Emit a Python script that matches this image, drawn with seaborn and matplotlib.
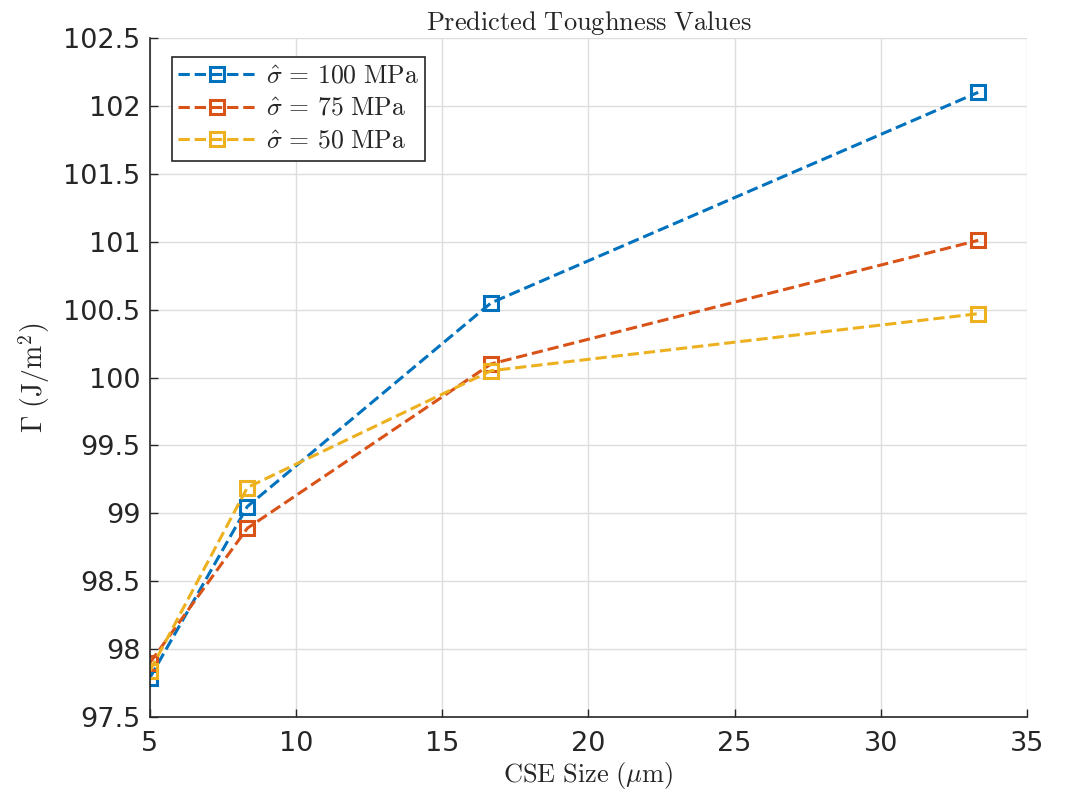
import matplotlib
matplotlib.use("Agg")
import matplotlib.pyplot as plt
import seaborn as sns
import pandas as pd

cse_size = [5.0, 8.33, 16.67, 33.33]
gamma_100 = [97.79, 99.05, 100.55, 102.10]
gamma_75 = [97.90, 98.89, 100.10, 101.01]
gamma_50 = [97.84, 99.19, 100.05, 100.47]
stress_labels = ['100 MPa', '75 MPa', '50 MPa']
colors = ['#0072BD', '#D95319', '#EDB120']

sns.set_theme(style="white")
plt.rcParams['font.family'] = ['DejaVu Sans']
plt.rcParams['mathtext.fontset'] = 'cm'

fig = plt.figure(figsize=(10.66, 7.92), dpi=100)
ax = fig.add_axes([0.1407, 0.0947, 0.8227, 0.8573])

for ys, lab, c in zip([gamma_100, gamma_75, gamma_50], stress_labels, colors):
    df = pd.DataFrame({'x': cse_size, 'y': ys})
    sns.lineplot(data=df, x='x', y='y', ax=ax, color=c, linestyle='--', linewidth=2.2,
                 marker='s', markersize=10, markerfacecolor='none', markeredgecolor=c,
                 markeredgewidth=2.2,
                 label=r'$\hat{\sigma}\,=\,\mathrm{' + lab.replace(' ', r'\ ') + '}$')

ax.set_xlim(5, 35)
ax.set_ylim(97.5, 102.5)
ax.set_xticks([5, 10, 15, 20, 25, 30, 35])
ax.set_yticks([97.5 + 0.5 * i for i in range(11)])
ax.set_yticklabels(['97.5', '98', '98.5', '99', '99.5', '100', '100.5', '101', '101.5', '102', '102.5'])
ax.tick_params(axis='both', labelsize=19.5, colors='#262626', direction='in', length=6, width=1,
               left=True, bottom=True)
ax.tick_params(axis='x', pad=10)
ax.tick_params(axis='y', pad=7)
ax.grid(True, color='#DDDDDD', linewidth=1)
for s in ['top', 'right']:
    ax.spines[s].set_visible(False)
for s in ['left', 'bottom']:
    ax.spines[s].set_color('#262626')
    ax.spines[s].set_linewidth(1.2)

ax.set_title(r'$\mathrm{Predicted\ Toughness\ Values}$', fontsize=19, pad=6)
ax.set_xlabel(r'$\mathrm{CSE\ Size\ (}\mu\mathrm{m)}$', fontsize=19, labelpad=2)
ax.set_ylabel(r'$\Gamma\ \mathrm{(J/m^2)}$', fontsize=20, labelpad=8)

leg = ax.legend(loc='upper left', bbox_to_anchor=(0.025, 0.972), borderaxespad=0,
                fontsize=18.5, frameon=True,
                fancybox=False, edgecolor='#262626', framealpha=1, handlelength=3.0,
                borderpad=0.25, labelspacing=0.25, handletextpad=0.4)
leg.get_frame().set_linewidth(1.2)

fig.savefig('out.png', dpi=100)
